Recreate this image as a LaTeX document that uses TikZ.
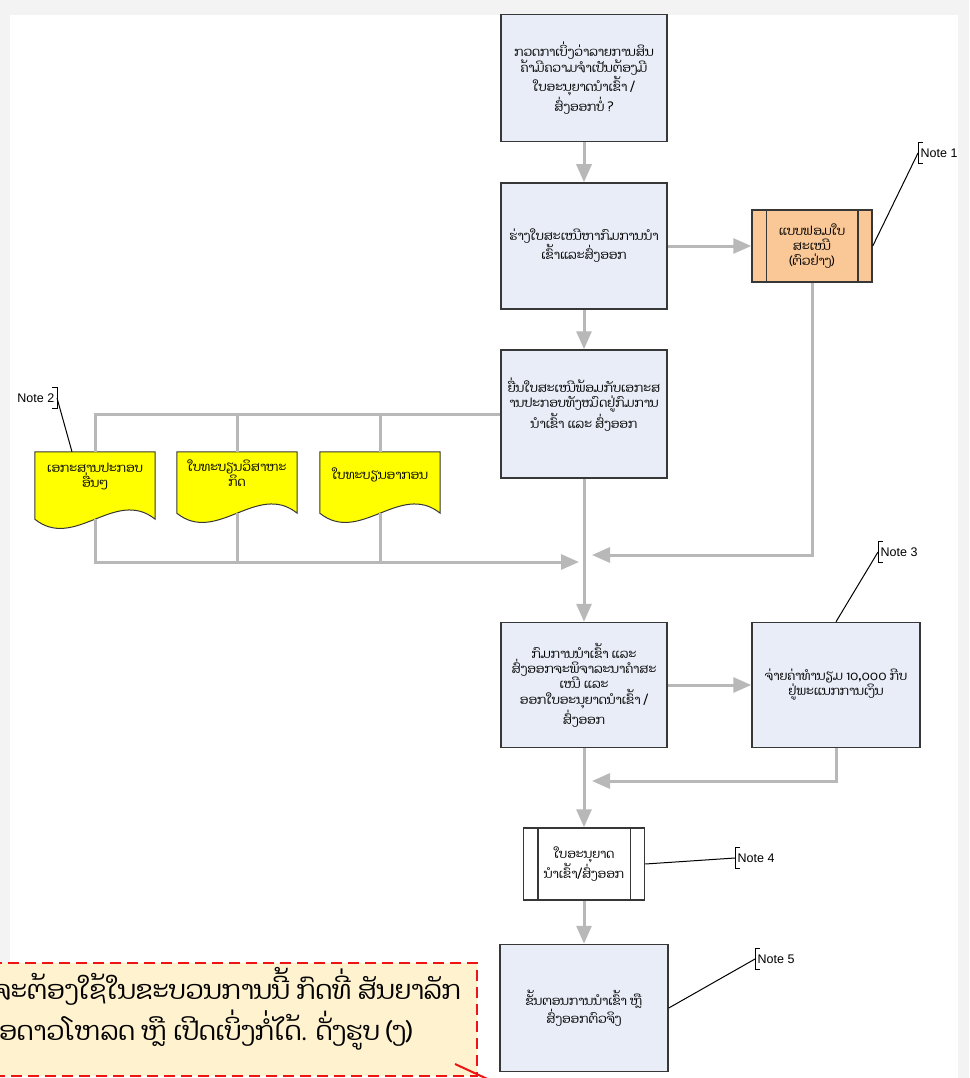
\documentclass[tikz,border=0pt]{standalone}
\usepackage{fontspec}
\setmainfont{Liberation Sans}
\newfontfamily\laofont[Script=Lao]{Dhyana}
\usetikzlibrary{arrows.meta}
\definecolor{boxfill}{RGB}{232,237,247}
\definecolor{boxborder}{RGB}{55,55,55}
\definecolor{conngray}{RGB}{184,184,184}
\definecolor{formfill}{RGB}{250,200,150}
\definecolor{docfill}{RGB}{255,255,0}
\definecolor{calloutfill}{RGB}{255,242,206}
\definecolor{framegray}{RGB}{243,243,243}
\definecolor{calloutred}{RGB}{238,20,20}
\tikzset{
  proc/.style={draw=boxborder, line width=1.5pt, fill=boxfill, align=center, inner sep=0pt,
    font=\laofont\fontsize{12.5}{15}\selectfont},
  docbody/.style={draw=none, inner sep=0pt},
  docshape/.style={draw=boxborder, line width=1pt, fill=docfill},
  doctext/.style={align=center, inner sep=0pt, font=\laofont\fontsize{12.5}{15}\selectfont},
  conn/.style={draw=conngray, line width=3pt, -{Triangle[length=18pt,width=15pt]}},
  plainconn/.style={draw=conngray, line width=3pt},
  notetxt/.style={font=\fontsize{12.5}{13}\selectfont, inner xsep=2.5pt, inner ysep=0pt, minimum height=21pt},
  notebr/.style={draw=black, line width=1pt},
  noteln/.style={draw=black, line width=1pt},
  callout/.style={draw=calloutred, dashed, dash pattern=on 11pt off 6pt, line width=1.6pt, fill=calloutfill, inner sep=0pt},
  callouttext/.style={font=\laofont\fontsize{26}{30}\selectfont, inner sep=0pt},
}
\begin{document}
\begin{tikzpicture}[x=1pt,y=-1pt]
\useasboundingbox (0,0) rectangle (969,1078);
\clip (0,0) rectangle (969,1078);
\fill[framegray] (0,0) rectangle (969,1078);
\fill[white] (10,15) rectangle (958,1078);

% main process boxes
\node[proc, minimum width=166pt, minimum height=127pt] (b1) at (584,78)
  {ກວດກາເບິ່ງວ່າລາຍການສິນ\\ຄ້າມີຄວາມຈຳເປັນຕ້ອງມີ\\ໃບອະນຸຍາດນຳເຂົ້າ /\\ສົ່ງອອກບໍ່ ?};
\node[proc, minimum width=166pt, minimum height=126pt] (b2) at (584,246)
  {ຮ່າງໃບສະເໜີຫາກົມການນຳ\\ເຂົ້າແລະສົ່ງອອກ};
\node[proc, minimum width=166pt, minimum height=128pt] (b3) at (584,414)
  {ຍື່ນໃບສະເໜີພ້ອມກັບເອກະສ\\ານປະກອບທັງໝົດຢູ່ກົມການ\\ນຳເຂົ້າ ແລະ ສົ່ງອອກ\\[6pt]};
\node[proc, minimum width=166pt, minimum height=125pt] (b4) at (584,685)
  {ກົມການນຳເຂົ້າ ແລະ\\ສົ່ງອອກຈະພິຈາລະນາຄຳສະ\\ເໜີ ແລະ\\ອອກໃບອະນຸຍາດນຳເຂົ້າ /\\ສົ່ງອອກ};
\node[proc, minimum width=168pt, minimum height=125pt] (fee) at (836,685)
  {ຈ່າຍຄ່າທຳນຽມ 10,000 ກີບ\\ຢູ່ພະແນກການເງິນ};
\node[proc, minimum width=168pt, minimum height=127pt] (last) at (584,1008)
  {ຂັ້ນຕອນການນຳເຂົ້າ ຫຼື\\ສົ່ງອອກຕົວຈິງ};

% predefined-process boxes
\node[proc, fill=formfill, minimum width=120pt, minimum height=72pt] (form) at (812,246)
  {ແບບຟອມໃບ\\ສະເໜີ\\(ຕົວຢ່າງ)};
\draw[boxborder, line width=1.5pt] ([xshift=15pt]form.north west) -- ([xshift=15pt]form.south west)
  ([xshift=-15pt]form.north east) -- ([xshift=-15pt]form.south east);
\node[proc, fill=white, minimum width=121pt, minimum height=72pt] (permit) at (584,864)
  {ໃບອະນຸຍາດ\\ນຳເຂົ້າ/ສົ່ງອອກ};
\draw[boxborder, line width=1.5pt] ([xshift=15pt]permit.north west) -- ([xshift=15pt]permit.south west)
  ([xshift=-15pt]permit.north east) -- ([xshift=-15pt]permit.south east);

% documents
\node[docbody, minimum width=120pt, minimum height=67pt] (d1) at (95,485.5) {};
\node[docbody, minimum width=120pt, minimum height=61pt] (d2) at (237,482.5) {};
\node[docbody, minimum width=120pt, minimum height=61pt] (d3) at (380,482.5) {};
\foreach \d in {d1,d2,d3}{
  \filldraw[docshape] (\d.north west) -- (\d.north east) -- (\d.south east)
    .. controls +(-40,-32) and +(40,32) .. (\d.south west) -- cycle;
}
\node[doctext] (d1t) at (95,476) {ເອກະສານປະກອບ\\ອື່ນໆ};
\node[doctext] (d2t) at (237,473) {ໃບທະບຽນວິສາຫະ\\ກິດ};
\node[doctext] (d3t) at (380,475) {ໃບທະບຽນອາກອນ};

% junction coordinates
\coordinate (jr) at (592,555);
\coordinate (jl) at (579,562);
\coordinate (jf) at (592,781);

% connectors
\draw[conn] (b1.south) -- (b2.north);
\draw[conn] (b2.east) -- (form.west);
\draw[conn] (b2.south) -- (b3.north);
\draw[conn] (b3.south) -- (b4.north);
\draw[conn] (form.south) |- (jr);
\draw[plainconn] (b3.west) -| (d1.north);
\draw[plainconn] (d2.north) -- (d2.north |- b3.west);
\draw[plainconn] (d3.north) -- (d3.north |- b3.west);
\draw[conn] (d1.south) |- (jl);
\draw[plainconn] (d2.south) -- (d2.south |- jl);
\draw[plainconn] (d3.south) -- (d3.south |- jl);
\draw[conn] (b4.east) -- (fee.west);
\draw[conn] (fee.south) |- (jf);
\draw[conn] (b4.south) -- (permit.north);
\draw[conn] (permit.south) -- (last.north);

% notes
\node[notetxt, anchor=west] (n1) at (918,153) {Note 1};
\node[notetxt, anchor=east] (n2) at (57,398) {Note 2};
\node[notetxt, anchor=west] (n3) at (878,552) {Note 3};
\node[notetxt, anchor=west] (n4) at (735,858) {Note 4};
\node[notetxt, anchor=west] (n5) at (755,959) {Note 5};
\foreach \n in {n1,n3,n4,n5}{
  \draw[notebr] ([xshift=5pt]\n.north west) -- (\n.north west) -- (\n.south west) -- ([xshift=5pt]\n.south west);
}
\draw[notebr] ([xshift=-5pt]n2.north east) -- (n2.north east) -- (n2.south east) -- ([xshift=-5pt]n2.south east);
\draw[noteln] (form.east) -- (n1.west);
\draw[noteln] (n2.east) -- ([xshift=-23pt]d1.north);
\draw[noteln] (fee.north) -- (n3.west);
\draw[noteln] (permit.east) -- (n4.west);
\draw[noteln] (last.east) -- (n5.west);

% callout
\node[callout, anchor=north east, minimum width=500pt, minimum height=113pt] (co) at (478,962) {};
\node[callouttext, anchor=east] (co1) at (461,986) {ຈະຕ້ອງໃຊ້ໃນຂະບວນການນີ້ ກົດທີ່ ສັນຍາລັກ};
\node[callouttext, anchor=east] (co2) at (412,1030) {ອດາວໂຫລດ ຫຼື ເປີດເບິ່ງກໍ່ໄດ້. ດັ່ງຮູບ (ງ)};
\coordinate (cp1) at (455,1064);
\coordinate (cp2) at (494,1082);
\draw[calloutred, line width=2pt] (cp1) -- (cp2);
\end{tikzpicture}
\end{document}
